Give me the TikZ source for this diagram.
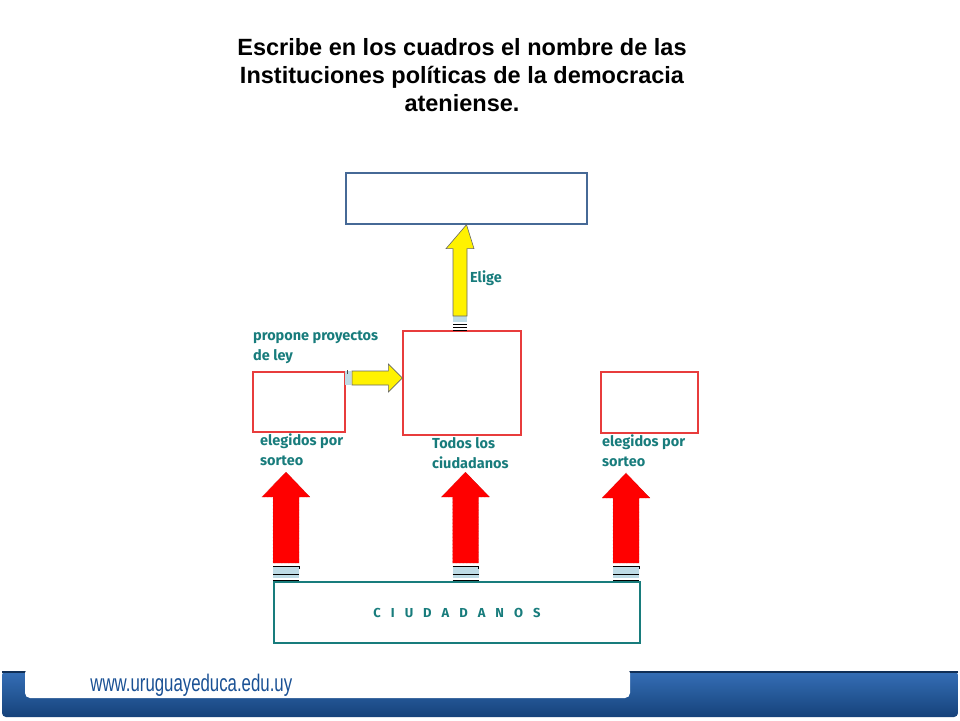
\documentclass[tikz,border=0pt]{standalone}
\usepackage{fontspec}
\setmainfont{Liberation Sans}
\newfontfamily\etiq{Fira Sans}
\usetikzlibrary{positioning,calc}
\definecolor{verdeazul}{RGB}{24,124,124}
\definecolor{azulcaja}{RGB}{70,105,150}
\definecolor{rojocaja}{RGB}{232,60,60}
\definecolor{celeste}{RGB}{190,220,230}
\definecolor{azulweb}{RGB}{31,95,175}
\tikzstyle{caja} = [draw=rojocaja,line width=1.3pt,inner sep=0pt]
\tikzstyle{txt} = [text=verdeazul,font=\etiq\bfseries\fontsize{14.5}{20}\selectfont,align=left,anchor=north west,inner sep=0pt]
\tikzstyle{amarilla} = [fill=yellow,draw=black!60,line width=0.6pt]
\tikzstyle{roja} = [fill=red,draw=red!70!black,line width=0.4pt,densely dotted]
% vertical block arrow: #1 base, #2 tip
\newcommand{\flechaV}[3]{%
  \draw[#3] let \p1=(#1), \p2=(#2) in
    (\x1-13pt,\y1) -- (\x1-13pt,\y2-25pt) -- (\x1-24pt,\y2-25pt) -- (\x1,\y2)
    -- (\x1+24pt,\y2-25pt) -- (\x1+13pt,\y2-25pt) -- (\x1+13pt,\y1) -- cycle;}
\begin{document}
\begin{tikzpicture}[x=1pt,y=-1pt]
\useasboundingbox (0,0) rectangle (960,720);
    % Title
    \node[font=\bfseries\fontsize{23.5}{28}\selectfont,align=center] (titulo) at (462,75)
        {Escribe en los cuadros el nombre de las\\Instituciones pol\'iticas de la democracia\\ateniense.};

    % Boxes
    \node[draw=azulcaja,line width=1.3pt,minimum width=241pt,minimum height=51pt] (arconte) at (466.5,198.5) {};
    \node[caja,minimum width=118pt,minimum height=104pt] (asamblea) at (462,383) {};
    \node[caja,minimum width=92pt,minimum height=60pt] (consejo) at (299,402) {};
    \node[caja,minimum width=97pt,minimum height=61pt] (tribunal) at (649.5,402.5) {};
    \node[draw=verdeazul,line width=1.2pt,minimum width=366pt,minimum height=61pt,
        font=\etiq\bfseries\fontsize{13}{14}\selectfont,text=verdeazul] (ciudadanos) at (457,612.5)
        {C\hspace{10pt}I\hspace{10pt}U\hspace{10pt}D\hspace{10pt}A\hspace{10pt}D\hspace{10pt}A\hspace{10pt}N\hspace{10pt}O\hspace{10pt}S};

    % Labels
    \node[txt] (elige) at (470,271) {Elige};
    \node[txt] (propone) at (253,331) {propone proyectos\\de ley};
    \node[txt] (sorteo1) at (260,434) {elegidos por\\sorteo};
    \node[txt] (todos) at (432,437) {Todos los\\ciudadanos};
    \node[txt] (sorteo2) at (602,435) {elegidos por\\sorteo};

    % Arrow ends
    \coordinate (b1) at (286,563);
    \coordinate (b2) at (465.5,563);
    \coordinate (b3) at (626,563);
    \coordinate (b4) at (460,316);
    \coordinate (t1) at (286,472);
    \coordinate (t2) at (465.5,472);
    \coordinate (t3) at (626,473);

    % Stripes under the arrows
    \foreach \c in {b1,b2,b3}{
        \fill[celeste] ($(\c)+(-13,4)$) rectangle ($(\c)+(13,15)$);
        \draw[line width=1pt] ($(\c)+(-13,3)$) -- ($(\c)+(13,3)$) -- ($(\c)+(13,6)$);
        \draw[line width=1pt] ($(\c)+(-13,11)$) -- ($(\c)+(13,11)$);
        \draw[line width=1pt] ($(\c)+(-13,17)$) -- ($(\c)+(13,17)$);
    }
    \fill[celeste] ($(b4)+(-7,0)$) rectangle ($(b4)+(7,6)$);
    \foreach \d in {8,11,14}
        \draw[line width=1pt] ($(b4)+(-7,\d)$) -- ($(b4)+(7,\d)$);

    % Red arrows
    \flechaV{b1}{t1}{roja}
    \flechaV{b2}{t2}{roja}
    \flechaV{b3}{t3}{roja}

    % Yellow arrows
    \draw[amarilla] let \p1=(b4), \p2=(arconte.south) in
        (\x1-7pt,\y1) -- (\x1-7pt,\y2-24pt) -- (\x1-14pt,\y2-24pt) -- (\x2,\y2)
        -- (\x1+14pt,\y2-24pt) -- (\x1+7pt,\y2-24pt) -- (\x1+7pt,\y1) -- cycle;
    \coordinate (b5) at (352,378);
    \fill[celeste] ($(b5)+(-7,-7)$) rectangle ($(b5)+(-1,7)$);
    \draw[black!70,line width=0.8pt] ($(b5)+(-5,-8)$) -- ($(b5)+(-5,-4)$);
    \draw[amarilla] let \p1=(b5), \p2=(asamblea.west) in
        (\x1,\y1+7pt) -- (\x2-14pt,\y1+7pt) -- (\x2-14pt,\y1+14pt) -- (\x2,\y1)
        -- (\x2-14pt,\y1-14pt) -- (\x2-14pt,\y1-7pt) -- (\x1,\y1-7pt) -- cycle;

    % Footer
    \shade[top color=azulweb!90!white,bottom color=azulweb!70!black,rounded corners=4pt]
        (2,671) rectangle (958,717);
    \draw[azulweb!50!black,line width=1.2pt] (2,672) -- (958,672);
    \fill[white,rounded corners=5pt] (25,668) -- (25,698) -- (630,698) -- (630,668) -- cycle;
    \node[text=azulweb!85!black,font=\fontsize{24}{26}\selectfont,xscale=0.7,anchor=west] (web) at (88,685)
        {www.uruguayeduca.edu.uy};
\end{tikzpicture}
\end{document}
